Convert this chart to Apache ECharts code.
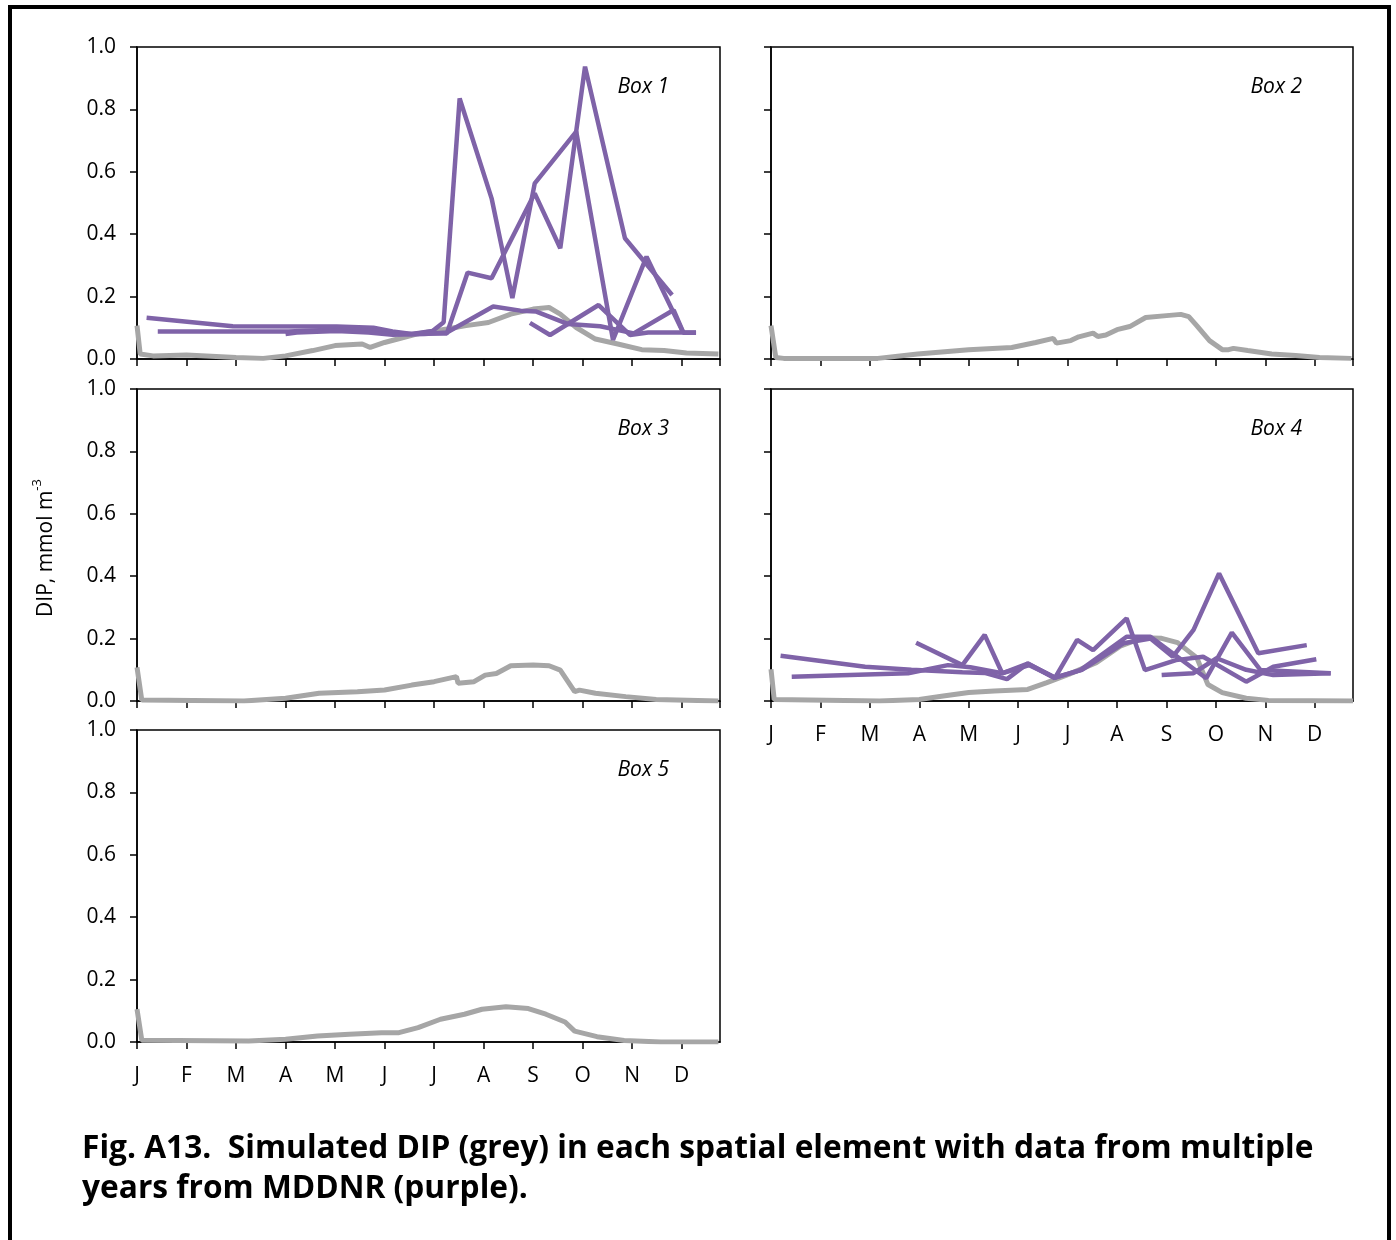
<!DOCTYPE html>
<html>
<head>
<meta charset="utf-8">
<script src="https://cdn.jsdelivr.net/npm/echarts@6/dist/echarts.min.js"></script>
<style>
html,body{margin:0;padding:0;background:#fff;}
#chart{width:1396px;height:1240px;}
</style>
</head>
<body>
<div id="chart"></div>
<script>
// ---------- DATA (day of year, DIP mmol m-3) ----------
const monthLabels = ['J','F','M','A','M','J','J','A','S','O','N','D'];
const panelNames = ['Box 1','Box 2','Box 3','Box 4','Box 5'];
const yTickValues = [0, 0.2, 0.4, 0.6, 0.8, 1.0];

// Simulated DIP (grey)
const box1Grey = [[0,0.107],[2,0.016],[10,0.01],[31,0.013],[62,0.005],[79,0.002],[93,0.01],[110,0.027],[124,0.043],[141,0.048],[146,0.037],[155,0.053],[175,0.08],[194,0.096],[206,0.107],[220,0.117],[234,0.144],[248,0.16],[258,0.165],[265,0.144],[275,0.101],[287,0.064],[301,0.048],[316,0.03],[330,0.027],[344,0.019],[364,0.016]];
const box2Grey = [[0,0.107],[3,0.005],[8,0.002],[67,0.002],[92,0.016],[124,0.03],[151,0.037],[166,0.053],[177,0.066],[179,0.051],[188,0.059],[193,0.071],[202,0.083],[205,0.072],[210,0.077],[217,0.094],[225,0.104],[235,0.133],[248,0.139],[257,0.143],[262,0.136],[267,0.107],[275,0.059],[283,0.03],[287,0.03],[290,0.034],[299,0.027],[314,0.016],[329,0.011],[344,0.005],[364,0.002]];
const box3Grey = [[0,0.108],[3,0.003],[67,0.0],[93,0.009],[114,0.025],[138,0.03],[155,0.035],[172,0.051],[186,0.062],[200,0.078],[201,0.057],[211,0.062],[218,0.083],[225,0.088],[234,0.113],[248,0.115],[258,0.113],[265,0.099],[274,0.03],[277,0.035],[287,0.025],[306,0.014],[325,0.005],[364,0.0]];
const box4Grey = [[0,0.102],[2,0.005],[68,0.0],[93,0.005],[108,0.016],[124,0.027],[140,0.032],[161,0.037],[173,0.059],[187,0.086],[204,0.123],[219,0.176],[233,0.203],[245,0.201],[255,0.187],[267,0.139],[274,0.053],[283,0.027],[298,0.009],[312,0.002],[365,0.0]];
const box5Grey = [[0,0.105],[3,0.006],[70,0.003],[93,0.009],[113,0.019],[133,0.025],[153,0.03],[164,0.03],[176,0.046],[190,0.073],[205,0.089],[216,0.105],[231,0.113],[245,0.107],[256,0.089],[268,0.064],[274,0.035],[288,0.017],[305,0.005],[328,0.0],[364,0.0]];

// MDDNR observations (purple), several years
const box1Obs1 = [[6,0.132],[60,0.105],[125,0.104],[148,0.1],[160,0.088],[172,0.08],[185,0.09],[192,0.118],[202,0.835],[222,0.515],[235,0.195],[249,0.563],[275,0.729],[298,0.061],[319,0.328],[342,0.084],[350,0.084]];
const box1Obs2 = [[13,0.088],[95,0.088],[130,0.095],[150,0.09],[170,0.08],[185,0.082],[194,0.082],[207,0.277],[222,0.259],[249,0.531],[265,0.355],[280.5,0.937],[305.5,0.387],[335,0.205]];
const box1Obs3 = [[93,0.08],[100,0.085],[125,0.09],[145,0.085],[160,0.078],[180,0.08],[194,0.085],[223,0.168],[240,0.155],[250,0.152],[270,0.112],[290,0.105],[311,0.082],[336,0.157],[342,0.085]];
const box1Obs4 = [[246,0.116],[258.6,0.077],[289,0.173],[308.6,0.077],[320,0.085],[350,0.085]];

const box4Obs1 = [[6,0.145],[59,0.11],[88,0.1],[120,0.092],[134,0.09],[148,0.07],[161,0.12],[178,0.073],[192,0.196],[202,0.163],[223,0.265],[234.5,0.099],[254,0.131],[271,0.142],[298,0.062],[315,0.11],[342,0.134]];
const box4Obs2 = [[13,0.078],[86,0.089],[111,0.115],[125,0.108],[145,0.089],[162,0.115],[178,0.075],[194,0.099],[223,0.206],[238,0.206],[273,0.073],[289,0.219],[307,0.099],[351,0.089]];
const box4Obs3 = [[91,0.187],[120,0.115],[134,0.212],[145,0.089],[161,0.12],[178,0.075],[195,0.1],[221,0.185],[238,0.2],[252,0.142],[265,0.228],[281,0.409],[305.6,0.153],[336,0.179]];
const box4Obs4 = [[245,0.083],[265,0.089],[279.5,0.137],[298,0.1],[315,0.083],[351,0.089]];

const panelGrey = [box1Grey, box2Grey, box3Grey, box4Grey, box5Grey];
const panelObs = [[box1Obs1, box1Obs2, box1Obs3, box1Obs4], [], [], [box4Obs1, box4Obs2, box4Obs3, box4Obs4], []];

// ---------- LAYOUT ----------
const grids = [
  {left:137, top:47,  width:583, height:312, yLabels:true,  xLabels:false},
  {left:771, top:47,  width:582, height:312, yLabels:false, xLabels:false},
  {left:137, top:389, width:583, height:312, yLabels:true,  xLabels:false},
  {left:771, top:389, width:582, height:312, yLabels:false, xLabels:true},
  {left:137, top:730, width:583, height:312, yLabels:true,  xLabels:true}
];
const FONT = '"Open Sans", "Noto Sans", sans-serif';
const GREY = '#a6a6a6';
const PURPLE = '#7f63a8';

const chart = echarts.init(document.getElementById('chart'), null, {renderer:'canvas'});
const option = {
  animation:false,
  backgroundColor:'#fff',
  grid: grids.map(g => ({left:g.left, top:g.top, width:g.width, height:g.height, show:true, borderColor:'#000', borderWidth:1.5, containLabel:false})),
  xAxis: grids.map((g,i) => ({
    type:'value', gridIndex:i, min:0, max:365, interval:31,
    axisLine:{show:true, onZero:false, lineStyle:{color:'#000', width:1.5}},
    axisTick:{show:true, inside:false, length:7, lineStyle:{color:'#000', width:1.5}},
    splitLine:{show:false},
    axisLabel:{show:g.xLabels, margin:24, color:'#000', fontSize:21, fontFamily:FONT,
      showMaxLabel:false,
      formatter: v => { const k = Math.round(v/31); return (Math.abs(v - k*31) < 0.01 && k < 12) ? monthLabels[k] : ''; }}
  })),
  yAxis: grids.map((g,i) => ({
    type:'value', gridIndex:i, min:0, max:1, interval:0.2,
    axisLine:{show:true, lineStyle:{color:'#000', width:1.5}},
    axisTick:{show:true, inside:false, length:7, lineStyle:{color:'#000', width:1.5}},
    splitLine:{show:false},
    axisLabel:{show:g.yLabels, margin:21, color:'#000', fontSize:21, fontFamily:FONT,
      formatter: v => yTickValues.some(t => Math.abs(t - v) < 1e-6) ? v.toFixed(1) : ''}
  })),
  series: [],
  graphic: []
};

panelGrey.forEach((d,i) => {
  option.series.push({type:'line', xAxisIndex:i, yAxisIndex:i, data:d, showSymbol:false, symbol:'none',
    lineStyle:{color:GREY, width:5}, z:2, silent:true});
});
panelObs.forEach((arr,i) => {
  arr.forEach(d => option.series.push({type:'line', xAxisIndex:i, yAxisIndex:i, data:d, showSymbol:false, symbol:'none',
    lineStyle:{color:PURPLE, width:4.5}, z:3, silent:true}));
});

// panel labels
grids.forEach((g,i) => {
  option.graphic.push({type:'text', x:g.left + g.width - 51, y:g.top + 40, z:10,
    style:{text:panelNames[i], font:'italic 21px ' + FONT, fill:'#000', textAlign:'right', textVerticalAlign:'middle'}});
});
// y axis title
option.graphic.push({type:'text', x:44, y:548, rotation:Math.PI/2, z:10,
  style:{text:'{a|DIP, mmol m}{s|-3}', textAlign:'center', textVerticalAlign:'middle',
    rich:{a:{fontSize:21, fontFamily:FONT, fill:'#000', lineHeight:26, verticalAlign:'bottom'},
          s:{fontSize:13, fontFamily:FONT, fill:'#000', lineHeight:26, verticalAlign:'top'}}}});
// caption
const CAP_FONT = 'bold 31.7px "Open Sans", sans-serif';
option.graphic.push({type:'text', x:82, y:1149, z:10,
  style:{text:'Fig. A13.  Simulated DIP (grey) in each spatial element with data from multiple', font:CAP_FONT, fill:'#000', textAlign:'left', textVerticalAlign:'middle'}});
option.graphic.push({type:'text', x:82, y:1189, z:10,
  style:{text:'years from MDDNR (purple).', font:CAP_FONT, fill:'#000', textAlign:'left', textVerticalAlign:'middle'}});
// outer frame
option.graphic.push({type:'rect', shape:{x:10, y:7, width:1379, height:1250}, z:0,
  style:{fill:'none', stroke:'#000', lineWidth:4}});

chart.setOption(option);
</script>
</body>
</html>
